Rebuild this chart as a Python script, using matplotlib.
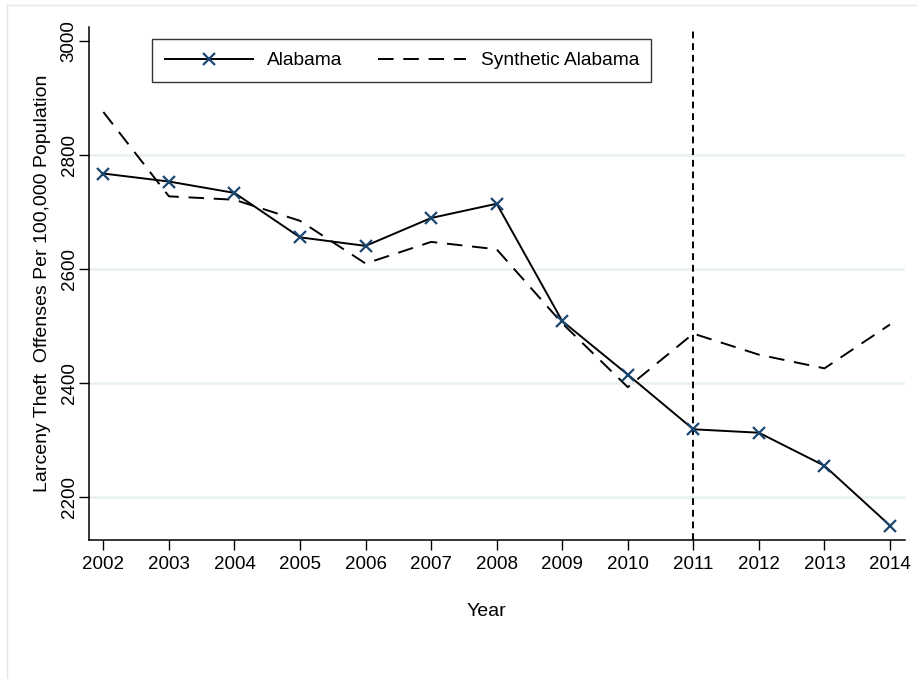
import matplotlib
matplotlib.use("Agg")
import matplotlib.pyplot as plt
from matplotlib.lines import Line2D

# Annual larceny-theft rates, Alabama vs. its synthetic control
years = [2002, 2003, 2004, 2005, 2006, 2007, 2008, 2009, 2010, 2011, 2012, 2013, 2014]
alabama = [2768, 2754, 2734, 2656, 2641, 2690, 2715, 2509, 2415, 2319, 2313, 2255, 2150]
synthetic = [2876, 2728, 2722, 2685, 2610, 2648, 2635, 2505, 2393, 2487, 2450, 2426, 2503]
y_ticks = [2200, 2400, 2600, 2800, 3000]
grid_ticks = [2200, 2400, 2600, 2800]
treatment_year = 2011

plt.rcParams["font.family"] = ["Liberation Sans", "DejaVu Sans"]

fig = plt.figure(figsize=(9.17, 6.79), dpi=100)
ax = fig.add_axes([0.097, 0.205, 0.890, 0.755])

navy = "#1a476f"
grid_col = "#e8f0f1"

for t in grid_ticks:
    ax.axhline(t, color=grid_col, lw=1.8, zorder=0)

ax.plot(years, synthetic, color="black", lw=1.4, dashes=(8, 5), zorder=2)
ax.plot(years, alabama, color="black", lw=1.4, marker="x", markersize=9,
        markeredgewidth=1.6, markeredgecolor=navy, zorder=3)
ax.axvline(treatment_year, color="black", lw=1.4, dashes=(3.5, 2.5), zorder=2)

ax.set_xlim(2001.78, 2014.23)
ax.set_ylim(2125, 3025)
ax.set_xticks(years)
ax.set_yticks(y_ticks)
ax.set_yticklabels([str(t) for t in y_ticks], rotation=90, va="center")
ax.tick_params(axis="both", direction="out", length=7, width=1.0, labelsize=13.5, colors="black")
ax.tick_params(axis="y", pad=1)
ax.tick_params(axis="x", pad=5)

for side in ("top", "right"):
    ax.spines[side].set_visible(False)
for side in ("left", "bottom"):
    ax.spines[side].set_linewidth(1.1)

ax.set_xlabel("Year", fontsize=14)
ax.xaxis.set_label_coords(0.4865, -0.123)
ax.set_ylabel("Larceny Theft  Offenses Per 100,000 Population", fontsize=14, labelpad=7)

handles = [
    Line2D([], [], color="black", lw=1.4, marker="x", markersize=9,
           markeredgewidth=1.6, markeredgecolor=navy),
    Line2D([], [], color="black", lw=1.4, dashes=(8, 5)),
]
leg = fig.legend(handles, ["Alabama", "Synthetic Alabama"], ncol=2,
                 loc="upper left", bbox_to_anchor=(0.166, 0.942),
                 frameon=True, fancybox=False, fontsize=13.8,
                 handlelength=4.6, handletextpad=0.75, borderpad=0.65,
                 columnspacing=1.85, borderaxespad=0.0)
leg.get_frame().set_edgecolor("black")
leg.get_frame().set_linewidth(1.0)

# faint outer frame of the graph region
fig.add_artist(Line2D([0.0076, 1.0], [0.9926, 0.9926], transform=fig.transFigure,
                      color="#e6e6e6", lw=1.0))
fig.add_artist(Line2D([0.0076, 0.0076], [0.0, 0.9926], transform=fig.transFigure,
                      color="#e6e6e6", lw=1.0))

fig.savefig("out.png", dpi=100, facecolor="white")
